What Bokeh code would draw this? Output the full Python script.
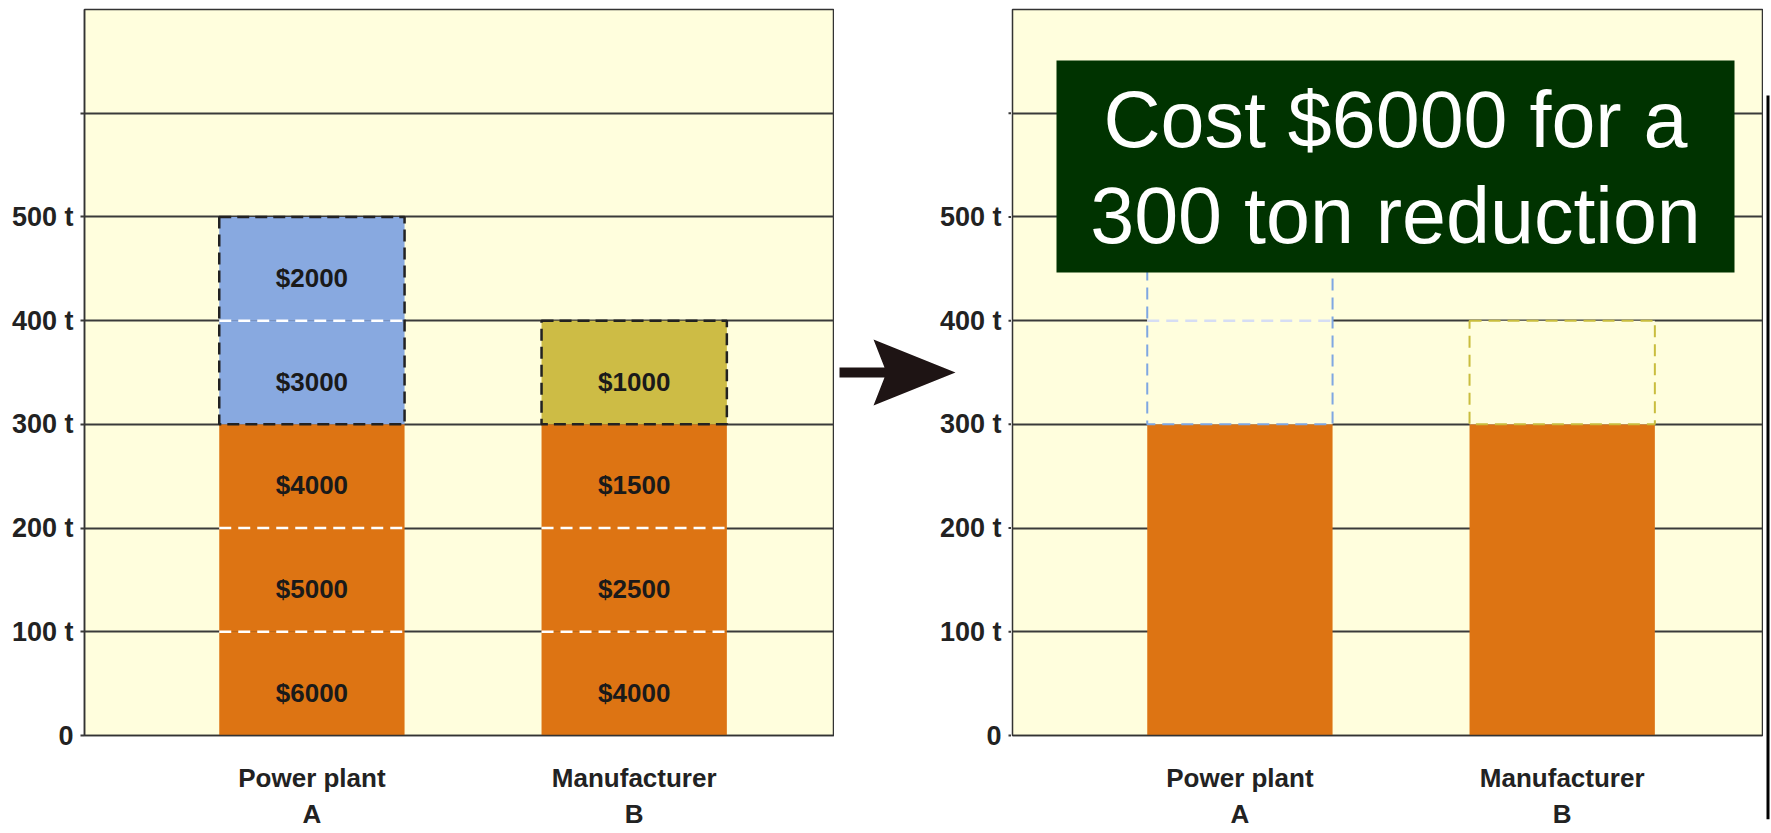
from bokeh.plotting import figure
from bokeh.layouts import row
from bokeh.models import Range1d, FixedTicker, ColumnDataSource, LinearAxis
from bokeh.core.properties import value
from bokeh.embed import file_html
from bokeh.resources import INLINE

# ---------------- data ----------------
plants = ["Power plant", "Manufacturer"]
plant_codes = ["A", "B"]
step_tons = 100
costs_A = [6000, 5000, 4000, 3000, 2000]   # cost of each successive 100 t cut
costs_B = [4000, 2500, 1500, 1000]
required_cut = 300
upper_colors = ["#88A9E0", "#CDBC45"]
outline_colors = ["#7FA7E2", "#C9BD3E"]
y_ticks = [0, 100, 200, 300, 400, 500, 600]
y_tick_labels = ["0", "100 t", "200 t", "300 t", "400 t", "500 t", ""]
summary_lines = ["Cost $6000 for a", "300 ton reduction"]

# ---------------- style ----------------
ORANGE = "#DD7413"
CREAM = "#FFFEDD"
GRID = "#3a3a3a"
FONT = "Liberation Sans"
TICK_FS = "27px"
X_START, X_END = -0.7056, 1.6215
BAR_W = 0.575
FW, FH = 750, 726
Y_MAX = 700
TOP, BOTTOM = 9, 90
EXTRA = 24          # extra frame height below the axis in the side strips

costs = [costs_A, costs_B]

seg = dict(x=[], bottom=[], top=[], mid=[], color=[], label=[])
div = dict(x0=[], x1=[], y=[])
upper = dict(x=[], bottom=[], top=[], line=[])
for i, cs in enumerate(costs):
    for j, c in enumerate(cs):
        b = j * step_tons
        t = b + step_tons
        seg["x"].append(i)
        seg["bottom"].append(b)
        seg["top"].append(t)
        seg["mid"].append((b + t) / 2)
        seg["color"].append(ORANGE if t <= required_cut else upper_colors[i])
        seg["label"].append(f"${c}")
        if j > 0 and b != required_cut:
            div["x0"].append(i - BAR_W / 2)
            div["x1"].append(i + BAR_W / 2)
            div["y"].append(b)
    upper["x"].append(i)
    upper["bottom"].append(required_cut)
    upper["top"].append(len(cs) * step_tons)
    upper["line"].append(outline_colors[i])


def style_xaxis(xa, labels, standoff, line_height, axis_line):
    xa.ticker = FixedTicker(ticks=list(range(len(labels))))
    xa.major_label_overrides = {i: name for i, name in enumerate(labels)}
    xa.major_tick_out = 0
    xa.major_tick_in = 0
    xa.minor_tick_out = 0
    xa.minor_tick_in = 0
    xa.axis_line_color = "#333333" if axis_line else None
    xa.axis_line_width = 1.5
    xa.major_label_standoff = standoff
    xa.major_label_text_font = FONT
    xa.major_label_text_font_style = "bold"
    xa.major_label_text_font_size = "26px"
    xa.major_label_text_line_height = line_height
    xa.major_label_text_color = "#222222"


def make_fig(border_left, border_right, with_yaxis):
    p = figure(frame_width=FW, frame_height=FH,
               x_range=Range1d(X_START, X_END), y_range=Range1d(0, Y_MAX),
               output_backend="svg", toolbar_location=None,
               y_axis_location="left" if with_yaxis else None,
               min_border_left=border_left, min_border_right=border_right,
               min_border_top=TOP, min_border_bottom=BOTTOM)
    p.background_fill_color = CREAM
    p.border_fill_color = "white"
    p.outline_line_color = "#333333"
    p.outline_line_width = 1.5
    p.xgrid.visible = False
    p.ygrid.ticker = FixedTicker(ticks=y_ticks)
    p.ygrid.grid_line_color = GRID
    p.ygrid.grid_line_width = 2
    if with_yaxis:
        ya = p.yaxis[0]
        ya.ticker = FixedTicker(ticks=y_ticks)
        ya.major_tick_out = 4
        ya.major_tick_in = 0
        ya.minor_tick_out = 0
        ya.minor_tick_in = 0
        ya.major_tick_line_color = GRID
        ya.major_tick_line_width = 2
        ya.axis_line_color = "#333333"
        ya.axis_line_width = 1.5
        ya.major_label_overrides = dict(zip(y_ticks, y_tick_labels))
        ya.major_label_standoff = 7
        ya.major_label_text_font = FONT
        ya.major_label_text_font_style = "bold"
        ya.major_label_text_font_size = TICK_FS
        ya.major_label_text_color = "#222222"
    style_xaxis(p.xaxis[0], plants, 27, 1.0, True)
    codes_axis = LinearAxis()
    style_xaxis(codes_axis, plant_codes, 3, 0.9, False)
    p.add_layout(codes_axis, "below")
    return p


# ---------------- left panel ----------------
left = make_fig(84, 0, True)
src = ColumnDataSource(seg)
left.vbar(x="x", width=BAR_W, bottom="bottom", top="top", fill_color="color",
          line_color=None, source=src)
left.segment(x0="x0", x1="x1", y0="y", y1="y", source=ColumnDataSource(div),
             line_color="white", line_width=2.5, line_dash="12 7")
left.vbar(x="x", width=BAR_W, bottom="bottom", top="top", source=ColumnDataSource(upper),
          fill_color=None, line_color="#222222", line_width=2.5, line_dash="12 6")
left.text(x="x", y="mid", text="label", source=src, text_align="center",
          text_baseline="middle", text_font=value(FONT), text_font_style="bold",
          text_font_size="26px", text_color="#1a1a1a", y_offset=9)

# ---------------- right panel ----------------
right = make_fig(1, 1, False)
right.vbar(x=list(range(len(plants))), width=BAR_W, bottom=0, top=required_cut,
           fill_color=ORANGE, line_color=None)
right.vbar(x="x", width=BAR_W, bottom="bottom", top="top", source=ColumnDataSource(upper),
           fill_color=CREAM, line_color="line", line_width=2, line_dash="12 7")
inner = [k for k in range(len(div["y"])) if div["y"][k] > required_cut]
right.segment(x0=[div["x0"][k] for k in inner], x1=[div["x1"][k] for k in inner],
              y0=[div["y"][k] for k in inner], y1=[div["y"][k] for k in inner],
              line_color="#D6DDF4", line_width=2.5, line_dash="12 7")

# page pixel -> data helpers for the decorations
FRAME_LEFT_PX, FRAME_BOTTOM_PX = 1012, TOP + FH


def rx(px):
    return X_START + (px - FRAME_LEFT_PX) / FW * (X_END - X_START)


def ry(py):
    return (FRAME_BOTTOM_PX - py) / FH * Y_MAX


right.quad(left=rx(1056), right=rx(1734), top=ry(60), bottom=ry(272),
           fill_color="#003300", line_color=None)
right.text(x=[rx(1395)] * 2, y=[ry(119), ry(215)], text=summary_lines,
           text_align="center", text_baseline="middle",
           text_font=value("Liberation Sans"), text_font_size="79px",
           text_color="white")

# ---------------- middle strip: arrow + right panel's y ticks ----------------
# same top border and frame origin as the panels; frame extended a bit lower
MID_L, MID_R = 834, 1011
mid = figure(frame_width=MID_R - MID_L, frame_height=FH + EXTRA,
             x_range=Range1d(MID_L, MID_R),
             y_range=Range1d(ry(TOP + FH + EXTRA), ry(TOP)),
             output_backend="svg", toolbar_location=None,
             x_axis_location=None, y_axis_location=None,
             min_border_left=0, min_border_right=0,
             min_border_top=TOP, min_border_bottom=10)
mid.background_fill_color = "white"
mid.border_fill_color = "white"
mid.outline_line_color = None
mid.grid.visible = False
mid.patch(x=[839, 884, 873, 955, 873, 884, 839],
          y=[ry(367), ry(367), ry(339), ry(372), ry(405), ry(377), ry(377)],
          fill_color="#1e1414", line_color=None)
mid.segment(x0=[FRAME_LEFT_PX - 4] * len(y_ticks), x1=[MID_R] * len(y_ticks),
            y0=y_ticks, y1=y_ticks, line_color=GRID, line_width=2)
mid.text(x=[FRAME_LEFT_PX - 11] * len(y_ticks), y=y_ticks, text=y_tick_labels,
         text_align="right", text_baseline="middle", text_font=value(FONT),
         text_font_style="bold", text_font_size=TICK_FS, text_color="#222222")

# ---------------- thin dark edge at the far right ----------------
EDGE_L, EDGE_R = 1763, 1770
EDGE_FH = FH + EXTRA + 60
edge = figure(frame_width=EDGE_R - EDGE_L, frame_height=EDGE_FH,
              x_range=Range1d(EDGE_L, EDGE_R), y_range=Range1d(TOP + EDGE_FH, TOP),
              output_backend="svg", toolbar_location=None,
              x_axis_location=None, y_axis_location=None,
              min_border_left=0, min_border_right=0,
              min_border_top=TOP, min_border_bottom=10)
edge.background_fill_color = "white"
edge.border_fill_color = "white"
edge.outline_line_color = None
edge.grid.visible = False
edge.quad(left=1766, right=1769, top=95, bottom=TOP + EDGE_FH, fill_color="black",
          line_color=None)

layout = row(left, mid, right, edge)
open("out.html", "w").write(file_html(layout, INLINE))
